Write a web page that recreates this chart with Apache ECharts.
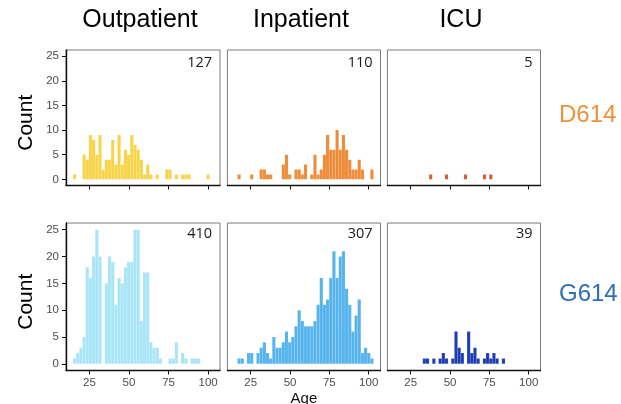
<!DOCTYPE html>
<html>
<head>
<meta charset="utf-8">
<script src="https://cdn.jsdelivr.net/npm/echarts@6.0.0/dist/echarts.min.js"></script>
<style>
html,body{margin:0;padding:0;background:#fff;}
#chart{width:621px;height:404px;}
</style>
</head>
<body>
<div id="chart"></div>
<script>
// ---- Data ----
var settings = ['Outpatient', 'Inpatient', 'ICU'];
var variants = ['D614', 'G614'];
var totals = { D614: [127, 110, 5], G614: [410, 307, 39] };
var ageBinStart = 14.6;   // left edge of first age bin (years)
var ageBinWidth = 2.01;   // width of each age bin (years)
var xTicks = [25, 50, 75, 100];
var yTicks = [0, 5, 10, 15, 20, 25];

// counts per age bin (44 bins)
var d614Outpatient = [1,0,0,5,4,9,8,5,9,2,4,4,8,3,9,3,6,5,9,7,6,4,1,3,1,0,1,0,0,2,2,0,1,0,1,1,1,0,0,0,0,0,1,0];
var d614Inpatient  = [0,1,0,0,0,1,0,0,2,2,1,1,0,0,0,3,5,1,0,2,2,1,3,0,1,5,1,2,5,9,6,6,10,6,9,6,4,2,2,4,2,0,0,2];
var d614ICU        = [0,0,0,0,0,0,0,0,0,0,0,1,0,0,0,0,1,0,0,0,0,0,1,0,0,0,0,0,1,0,1,0,0,0,0,0,0,0,0,0,0,0,0,0];
var g614Outpatient = [1,2,3,5,18,16,20,25,20,0,15,20,19,11,16,15,18,19,19,25,25,8,17,17,4,3,3,1,0,0,1,1,4,0,2,1,0,1,1,1,0,0,0,0];
var g614Inpatient  = [0,1,1,0,2,2,0,2,3,4,2,1,5,3,3,4,6,4,5,7,10,8,7,7,7,8,11,16,11,12,16,21,16,20,21,14,11,6,9,12,2,3,2,1];
var g614ICU        = [0,0,0,0,0,0,0,0,0,1,1,0,1,0,1,2,1,0,1,6,3,2,0,6,2,3,1,0,1,2,1,2,1,0,1,0,0,0,0,0,0,0,0,0];

var panelData = {
  D614: [d614Outpatient, d614Inpatient, d614ICU],
  G614: [g614Outpatient, g614Inpatient, g614ICU]
};
var panelColors = {
  D614: ['#F8D448', '#EF8A36', '#D9592C'],
  G614: ['#A9E5F9', '#55B3EE', '#1B3CB3']
};
var variantColors = { D614: '#F0913A', G614: '#2F6DB6' };

// ---- Layout ----
var cols = [{left: 66, width: 154}, {left: 227.4, width: 153.1}, {left: 387.4, width: 153.1}];
var rows = [{top: 50, height: 135.5}, {top: 223, height: 147.5}];
var xMin = 10.2, xMax = 107.5, yMin = -1.25, yMax = 26.25;

function toBins(counts) {
  var out = [];
  for (var i = 0; i < counts.length; i++) {
    if (counts[i] > 0) {
      var lo = ageBinStart + i * ageBinWidth;
      out.push([lo, lo + ageBinWidth, counts[i]]);
    }
  }
  return out;
}

var grids = [], xAxes = [], yAxes = [], series = [], graphics = [];
var idx = 0;
rows.forEach(function (r, ri) {
  var v = variants[ri];
  cols.forEach(function (c, ci) {
    grids.push({
      left: c.left, top: r.top, width: c.width, height: r.height,
      show: true, borderColor: '#7a7a7a', borderWidth: 1, backgroundColor: '#fff'
    });
    xAxes.push({
      type: 'value', gridIndex: idx, min: xMin, max: xMax,
      splitLine: {show: false},
      axisLine: {show: true, onZero: false, lineStyle: {color: '#111', width: 1.4}},
      axisTick: {show: true, length: 4, lineStyle: {color: '#111'}, customValues: xTicks},
      axisLabel: {show: ri === 1, customValues: xTicks, color: '#4d4d4d', fontSize: 11.5,
                  fontFamily: 'Liberation Sans', margin: 6}
    });
    yAxes.push({
      type: 'value', gridIndex: idx, min: yMin, max: yMax,
      splitLine: {show: false},
      axisLine: {show: ci === 0, onZero: false, lineStyle: {color: '#111', width: 1.4}},
      axisTick: {show: ci === 0, length: 4, lineStyle: {color: '#111'}, customValues: yTicks},
      axisLabel: {show: ci === 0, customValues: yTicks, color: '#4d4d4d', fontSize: 11.5,
                  fontFamily: 'Liberation Sans', margin: 7}
    });
    (function (color) {
      series.push({
        type: 'custom', xAxisIndex: idx, yAxisIndex: idx,
        data: toBins(panelData[v][ci]),
        encode: {x: [0, 1], y: 2},
        clip: true,
        renderItem: function (params, api) {
          var p0 = api.coord([api.value(0), 0]);
          var p1 = api.coord([api.value(1), api.value(2)]);
          return {
            type: 'rect',
            shape: {x: p0[0], y: p1[1], width: p1[0] - p0[0], height: p0[1] - p1[1]},
            style: {fill: color, stroke: 'rgba(255,255,255,0.22)', lineWidth: 0.5}
          };
        }
      });
    })(panelColors[v][ci]);
    // total count annotation
    graphics.push({
      type: 'text', right: 621 - (c.left + c.width) + 8, top: r.top + (ri === 0 ? 5 : 3),
      style: {text: String(totals[v][ci]), fontSize: 14.5, fontFamily: 'Open Sans', fill: '#1a1a1a'}
    });
    idx++;
  });
  // row label on the right
  graphics.push({
    type: 'text', left: 559, top: r.top + r.height / 2 - 14,
    style: {text: v, fontSize: 24, fontFamily: 'Liberation Sans', fill: variantColors[v]}
  });
  // Count axis title
  graphics.push({
    type: 'text', x: 26, y: r.top + r.height / 2 + 5, rotation: Math.PI / 2,
    style: {text: 'Count', fontSize: 21, fontFamily: 'Liberation Sans', fill: '#000',
            align: 'center', verticalAlign: 'middle'}
  });
});
// column strip labels
cols.forEach(function (c, ci) {
  graphics.push({
    type: 'text', x: c.left + c.width / 2 - 3, y: 20,
    style: {text: settings[ci], fontSize: 25, fontFamily: 'Liberation Sans', fill: '#000',
            align: 'center', verticalAlign: 'middle'}
  });
});
// x axis title
graphics.push({
  type: 'text', x: cols[1].left + cols[1].width / 2, y: 399,
  style: {text: 'Age', fontSize: 15, fontFamily: 'Liberation Sans', fill: '#111',
          align: 'center', verticalAlign: 'middle'}
});

var chart = echarts.init(document.getElementById('chart'), null, {renderer: 'canvas'});
chart.setOption({
  animation: false,
  backgroundColor: '#fff',
  grid: grids, xAxis: xAxes, yAxis: yAxes, series: series,
  graphic: graphics
});
</script>
</body>
</html>
